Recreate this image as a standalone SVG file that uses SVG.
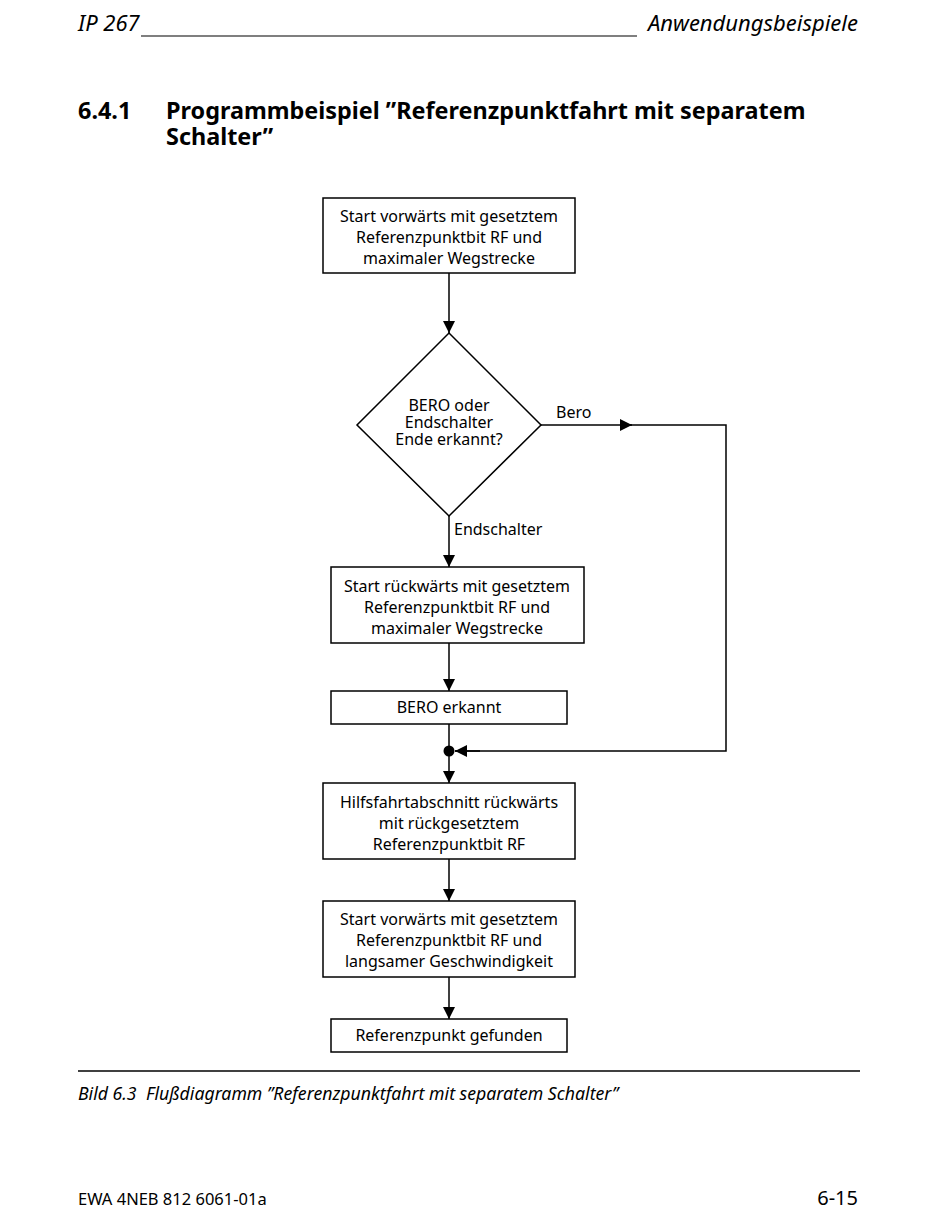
<svg xmlns="http://www.w3.org/2000/svg" width="950" height="1210" viewBox="0 0 950 1210">
<defs>
<marker id="ah" markerWidth="14" markerHeight="14" refX="12" refY="6" orient="auto" markerUnits="userSpaceOnUse">
<path d="M0,0 L12,6 L0,12 Z" fill="#000"/>
</marker>
<style>
.t{font-family:"Noto Sans","Open Sans",sans-serif;font-size:16px;fill:#000;text-anchor:middle}
.d{font-family:"Noto Sans","Open Sans",sans-serif;font-size:16px;fill:#000;text-anchor:middle}
.l{font-family:"Noto Sans","Open Sans",sans-serif;font-size:16px;fill:#000}
.box{fill:#fff;stroke:#000;stroke-width:1.5}
.c{fill:none;stroke:#000;stroke-width:1.5}
.hi{font-family:"Noto Sans","Open Sans",sans-serif;font-style:italic;font-size:22px;fill:#000}
.h1{font-family:"Noto Sans","Open Sans",sans-serif;font-weight:bold;font-size:23.4px;fill:#000}
.cap{font-family:"Noto Sans","Open Sans",sans-serif;font-style:italic;font-size:17.7px;fill:#000}
</style>
</defs>
<rect width="950" height="1210" fill="#fff"/>
<text class="hi" x="78" y="31">IP 267</text>
<line x1="141" y1="36" x2="637" y2="36" stroke="#000" stroke-width="1.2"/>
<text class="hi" x="858" y="31" text-anchor="end">Anwendungsbeispiele</text>
<text class="h1" x="78" y="119">6.4.1</text>
<text class="h1" x="166" y="119">Programmbeispiel ”Referenzpunktfahrt mit separatem</text>
<text class="h1" x="166" y="145">Schalter”</text>

<g id="connectors">
<line class="c" x1="449" y1="273" x2="449" y2="333" marker-end="url(#ah)"/>
<line class="c" x1="541" y1="425" x2="632" y2="425" marker-end="url(#ah)"/>
<polyline class="c" points="630,425 726,425 726,751 455,751"/>
<line class="c" x1="480" y1="751" x2="455" y2="751" marker-end="url(#ah)"/>
<line class="c" x1="449" y1="516" x2="449" y2="567" marker-end="url(#ah)"/>
<line class="c" x1="449" y1="643" x2="449" y2="691" marker-end="url(#ah)"/>
<line class="c" x1="449" y1="724" x2="449" y2="783" marker-end="url(#ah)"/>
<circle cx="449" cy="751" r="5.5" fill="#000"/>
<line class="c" x1="449" y1="859" x2="449" y2="901" marker-end="url(#ah)"/>
<line class="c" x1="449" y1="977" x2="449" y2="1019" marker-end="url(#ah)"/>
<text class="l" x="556" y="418">Bero</text>
<text class="l" x="454" y="535">Endschalter</text>
</g>

<g id="n1">
<rect class="box" x="323" y="198" width="252" height="75"/>
<text class="t" x="449" y="222">Start vorwärts mit gesetztem</text>
<text class="t" x="449" y="243">Referenzpunktbit RF und</text>
<text class="t" x="449" y="264">maximaler Wegstrecke</text>
</g>
<g id="n2">
<polygon class="box" points="449,333 541,425 449,516 357,425"/>
<text class="d" x="449" y="411">BERO oder</text>
<text class="d" x="449" y="428">Endschalter</text>
<text class="d" x="449" y="445">Ende erkannt?</text>
</g>
<g id="n3">
<rect class="box" x="331" y="567" width="253" height="76"/>
<text class="t" x="457" y="592">Start rückwärts mit gesetztem</text>
<text class="t" x="457" y="613">Referenzpunktbit RF und</text>
<text class="t" x="457" y="634">maximaler Wegstrecke</text>
</g>
<g id="n4">
<rect class="box" x="331" y="691" width="236" height="33"/>
<text class="t" x="449" y="713">BERO erkannt</text>
</g>
<g id="n5">
<rect class="box" x="323" y="783" width="252" height="76"/>
<text class="t" x="449" y="808">Hilfsfahrtabschnitt rückwärts</text>
<text class="t" x="449" y="829">mit rückgesetztem</text>
<text class="t" x="449" y="850">Referenzpunktbit RF</text>
</g>
<g id="n6">
<rect class="box" x="323" y="901" width="252" height="76"/>
<text class="t" x="449" y="925">Start vorwärts mit gesetztem</text>
<text class="t" x="449" y="946">Referenzpunktbit RF und</text>
<text class="t" x="449" y="967">langsamer Geschwindigkeit</text>
</g>
<g id="n7">
<rect class="box" x="331" y="1019" width="236" height="33"/>
<text class="t" x="449" y="1041">Referenzpunkt gefunden</text>
</g>

<line x1="78" y1="1071" x2="860" y2="1071" stroke="#000" stroke-width="1.6"/>
<text class="cap" x="78" y="1100">Bild 6.3</text>
<text class="cap" x="146" y="1100">Flußdiagramm ”Referenzpunktfahrt mit separatem Schalter”</text>
<text x="78" y="1205" style="font-family:'Noto Sans','Open Sans',sans-serif;font-size:16.5px">EWA 4NEB 812 6061-01a</text>
<text x="858" y="1205" text-anchor="end" style="font-family:'Noto Sans','Open Sans',sans-serif;font-size:20px">6-15</text>
</svg>
